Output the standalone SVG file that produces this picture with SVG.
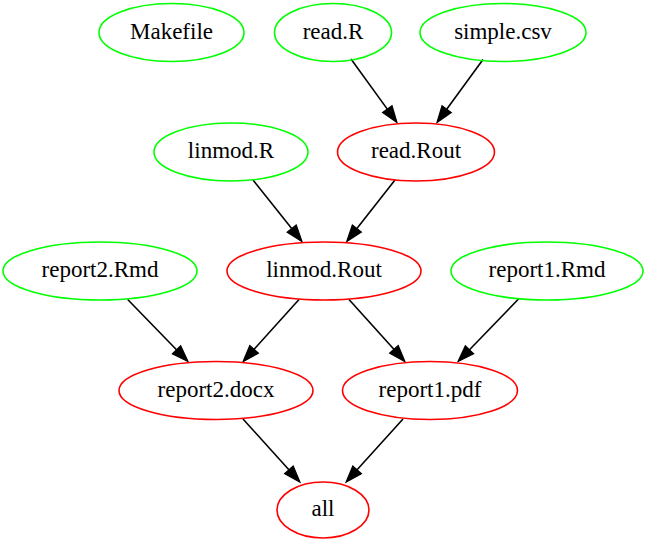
<svg xmlns="http://www.w3.org/2000/svg" width="646" height="541" viewBox="0 0 646 541">
<style>
  .src ellipse { fill: none; stroke: #00ff00; stroke-width: 1.6; }
  .tgt ellipse { fill: none; stroke: #ff0000; stroke-width: 1.6; }
  #edges line { stroke: #000; stroke-width: 1.6; marker-end: url(#arrow); }
</style>
<defs>
  <marker id="arrow" markerUnits="userSpaceOnUse" markerWidth="18" markerHeight="14" refX="0" refY="7" orient="auto" viewBox="0 0 18 14" overflow="visible">
    <path d="M0,1.2 L16.5,7 L0,12.8 Z" fill="#000" stroke="#000" stroke-width="1.2"/>
  </marker>
</defs>
<rect width="646" height="541" fill="#fff"/>
<g id="edges">
  <line x1="351" y1="59" x2="387.3" y2="109.1"/>
  <line x1="483" y1="59.5" x2="446.7" y2="109.2"/>
  <line x1="253" y1="180" x2="291.7" y2="228.6"/>
  <line x1="395" y1="180" x2="356.9" y2="228.5"/>
  <line x1="127.7" y1="299.5" x2="176.5" y2="349.7"/>
  <line x1="299" y1="299.5" x2="254.1" y2="349.3"/>
  <line x1="349" y1="299.5" x2="393.9" y2="349.3"/>
  <line x1="519" y1="298.5" x2="469.5" y2="349.7"/>
  <line x1="243" y1="419" x2="288.9" y2="469.8"/>
  <line x1="403" y1="419" x2="357.1" y2="469.8"/>
</g>
<g font-family="Liberation Serif" font-size="23" text-anchor="middle" fill="#000">
<g id="Makefile" class="src"><ellipse cx="171.5" cy="32.5" rx="72.5" ry="29"/><text x="171.5" y="38.5" font-family="Liberation Serif">Makefile</text></g>
<g id="read.R" class="src"><ellipse cx="333" cy="32.5" rx="58.5" ry="29"/><text x="333" y="38.5" font-family="Liberation Serif">read.R</text></g>
<g id="simple.csv" class="src"><ellipse cx="503" cy="32.5" rx="83" ry="29"/><text x="503" y="38.5" font-family="Liberation Serif">simple.csv</text></g>
<g id="linmod.R" class="src"><ellipse cx="231" cy="152" rx="77" ry="29"/><text x="231" y="158" font-family="Liberation Serif">linmod.R</text></g>
<g id="read.Rout" class="tgt"><ellipse cx="416" cy="152" rx="78.5" ry="29"/><text x="416" y="158" font-family="Liberation Serif">read.Rout</text></g>
<g id="report2.Rmd" class="src"><ellipse cx="100" cy="271" rx="97" ry="29"/><text x="100" y="277" font-family="Liberation Serif">report2.Rmd</text></g>
<g id="linmod.Rout" class="tgt"><ellipse cx="324" cy="271" rx="97" ry="29"/><text x="324" y="277" font-family="Liberation Serif">linmod.Rout</text></g>
<g id="report1.Rmd" class="src"><ellipse cx="547" cy="271" rx="96" ry="29"/><text x="547" y="277" font-family="Liberation Serif">report1.Rmd</text></g>
<g id="report2.docx" class="tgt"><ellipse cx="216" cy="390.5" rx="97" ry="29"/><text x="216" y="396.5" font-family="Liberation Serif">report2.docx</text></g>
<g id="report1.pdf" class="tgt"><ellipse cx="430" cy="390.5" rx="87.5" ry="29"/><text x="430" y="396.5" font-family="Liberation Serif">report1.pdf</text></g>
<g id="all" class="tgt"><ellipse cx="323" cy="510" rx="46" ry="28"/><text x="323" y="516" font-family="Liberation Serif">all</text></g>
</g>
</svg>
